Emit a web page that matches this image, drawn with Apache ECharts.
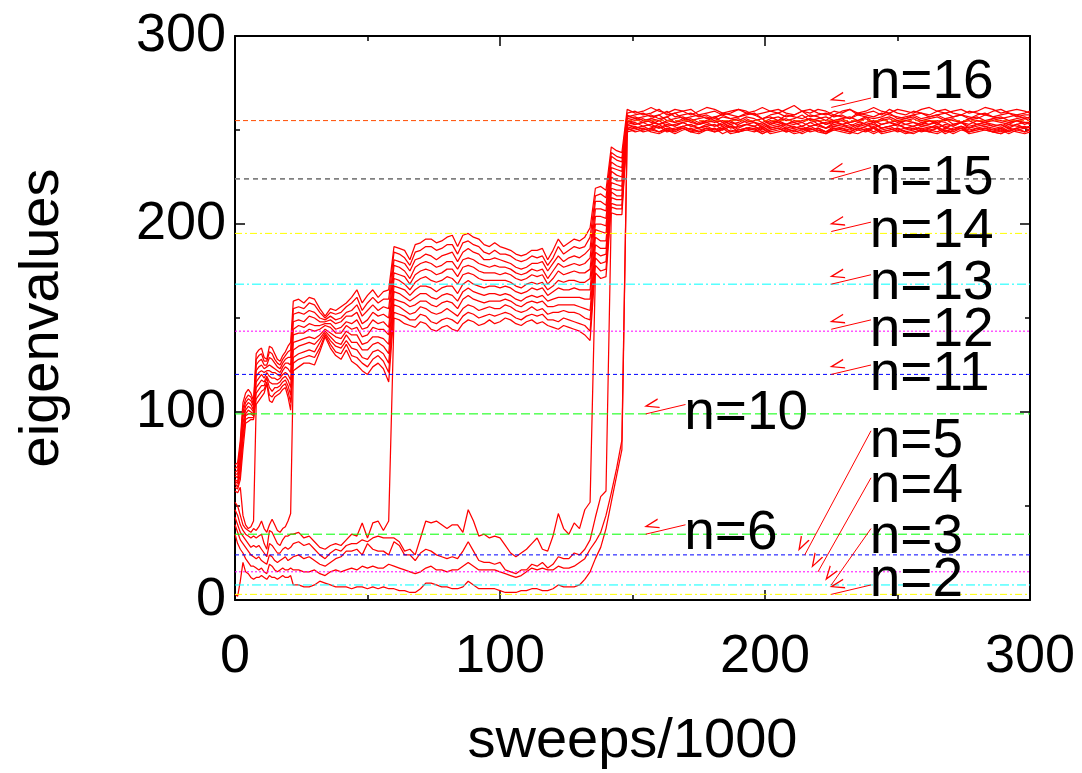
<!DOCTYPE html>
<html><head><meta charset="utf-8">
<script src="https://cdn.jsdelivr.net/npm/echarts/dist/echarts.min.js"></script>
<style>html,body{margin:0;padding:0;background:#fff}#chart{width:1082px;height:773px}</style>
</head><body><div id="chart"></div>
<script>
// sweep positions (x, sweeps/1000)
const sweeps = [0,1,2,3,4,5,6,7,8,9,10,11,12,13,14,15,16,17,18,19,20,21,22,24,26,28,30,32,34,36,38,40,42,44,46,48,50,52,54,56,58,60,62,64,66,68,70,72,74,76,78,80,82,84,86,88,90,92,94,96,98,100,102,104,106,108,110,112,114,116,118,120,122,124,126,128,130,132,134,136,138,140,142,144,146];
const bandSweeps = [148,151,154,157,160,163,166,169,172,175,178,181,184,187,190,193,196,199,202,205,208,211,214,217,220,223,226,229,232,235,238,241,244,247,250,253,256,259,262,265,268,271,274,277,280,283,286,289,292,295,298,300];

// eigenvalues, sweeps 0..146
const e1 = [72,73,85,105,110,112,110,106, 131,133,134,129,128,135,134,131,128,127,130,132,135,137, 159, 160,158,161,160,155,151,155,154,156,158,161,165,158,162,165,161,164,165, 188,187,186,181,189,190,192,192,190,191,193,194,188,194,195,193,192,189,188,190,188,187,186,184,183,184,186,186,187,181,186,192,188,190,192,191,193,198, 219,220,218, 241,239,238];
const e2 = [70,71,82,102,107,109,108,104, 128,130,131,127,127,132,131,128,126,125,128,130,132,133, 155, 156,155,158,157,153,150,153,152,153,156,158,161,154,158,161,158,160,160, 185,184,182,178,185,186,188,188,186,187,189,189,184,190,191,189,188,185,184,186,184,184,183,181,180,181,183,182,183,178,182,188,184,186,188,187,188,193, 215,216,214, 238,236,235];
const e3 = [68,69,80,100,105,107,106,103, 125,127,128,125,125,129,128,126,124,123,126,128,129,129, 152, 153,152,154,153,150,149,151,149,150,153,154,157,151,154,157,154,156,155, 181,180,179,175,181,182,184,183,181,183,184,185,180,185,187,185,184,181,181,182,181,180,179,177,176,177,179,179,180,175,179,183,180,182,183,182,184,187, 212,212,210, 236,234,233];
const e4 = [67,67,77,97,103,105,104,101, 122,124,125,123,124,125,124,123,122,121,124,126,126,125, 148, 149,148,151,150,148,148,149,147,148,151,151,153,147,149,153,151,152,150, 178,177,175,171,177,179,180,179,177,178,180,180,176,181,182,181,179,178,177,178,177,177,176,174,173,174,176,175,176,171,175,179,177,178,179,178,179,182, 208,208,207, 233,231,230];
const e5 = [66,65,75,94,101,103,102,100, 119,121,122,121,122,122,121,121,120,119,122,124,123,121, 144, 146,145,147,146,146,147,147,144,145,148,147,149,144,145,149,147,148,145, 174,173,172,168,173,175,176,175,173,174,176,176,172,177,178,177,175,174,174,174,173,174,173,171,170,171,173,172,173,168,171,175,173,174,175,174,174,176, 204,204,203, 230,229,228];
const e6 = [64,63,72,91,99,101,100,99, 116,118,120,118,121,119,118,118,117,118,120,121,120,117, 141, 142,142,144,143,144,146,145,142,142,146,144,145,140,141,145,144,144,141, 171,170,168,165,169,171,172,170,169,170,172,171,168,173,174,173,171,170,170,170,170,170,169,167,166,168,169,168,169,165,167,170,169,170,170,169,169,171, 200,200,199, 228,226,225];
const e7 = [63,62,70,88,98,99,99,98, 113,115,117,116,119,116,115,115,115,116,118,119,117,113, 137, 138,139,140,139,141,144,142,140,139,143,141,141,136,137,140,140,139,136, 167,166,165,162,165,167,167,166,164,166,167,167,163,168,170,168,167,166,167,167,166,167,166,164,163,164,166,165,166,162,164,166,165,165,166,165,165,165, 197,196,195, 225,223,223];
const e8 = [62,60,67,85,96,97,97,97, 110,112,114,114,118,113,111,113,113,114,116,117,114,109, 133, 135,136,137,136,139,143,140,137,136,141,137,137,133,133,136,137,135,131, 164,163,161,159,161,163,163,161,160,162,163,162,159,164,166,164,163,162,163,163,162,163,162,160,159,161,162,161,162,159,160,161,161,161,161,161,160,160, 193,191,191, 222,221,220];
const e9 = [60,59,64,80,94,95,96,96, 107,109,111,112,116,109,108,110,111,112,114,115,111,105, 129, 131,132,133,132,137,142,138,135,134,138,134,133,129,128,132,133,131,126, 160,159,158,156,157,159,159,157,156,158,159,158,155,160,162,160,159,158,159,159,159,160,159,157,156,158,159,158,159,156,156,157,157,157,157,156,155,154, 189,187,187, 219,218,218];
const e10 = [58,57,60,45,40,38,39,42, 104,106,108,110,115,106,105,108,109,110,112,113,108,101, 126, 128,129,130,129,134,141,136,132,131,136,130,129,126,124,128,130,127,121, 157,156,154,152,153,156,155,153,152,153,155,153,151,155,157,156,154,155,156,155,155,157,156,154,153,154,156,154,155,152,153,153,154,153,153,152,150,149, 185,183,184, 217,215,215];
const e11 = [52,50,45,40,38,37,36,38, 37,39,42,38,36,40,43,40,37,36,38,39,42,46, 122, 124,126,126,125,132,140,134,130,128,133,127,125,122,120,124,126,123,116, 153,152,151,149,149,152,151,148,147,149,150,149,147,151,153,152,150,151,152,151,152,153,152,150,149,151,152,151,152,149,149,148,150,149,148,147,146,143, 182,179,180, 214,213,213];
const e12 = [48,45,40,37,35,34,33,34, 33,34,35,30,27,37,36,33,30,29,32,34,34,35, 35, 36,33,34,31,28,27,29,30,29,32,35,34,41,33,41,42,37,42, 150,149,147,146,145,148,147,144,143,145,146,144,143,147,149,148,146,147,149,147,148,150,149,147,146,148,149,147,148,146,145,144,146,145,144,143,141,138, 178,175,176, 211,210,210];
const e13 = [44,40,36,34,32,30,28,29, 28,29,27,25,23,30,29,27,25,25,27,28,27,28, 30, 31,29,30,27,24,22,25,27,26,29,30,30,32,31,33,34,33,33, 33,31,26,27,24,33,42,41,42,40,38,40,40,36,48,42,34,35,33,34,33,29,25,23,25,27,30,33,27,26,34,46,38,35,41,38,48,52, 174,171,172, 209,208,208];
const e14 = [40,36,32,30,28,26,24,23, 22,23,21,20,19,24,23,21,20,21,22,23,21,22, 23, 24,22,23,21,19,18,20,22,23,26,26,27,24,30,27,26,26,24, 31,29,24,24,21,25,27,26,24,23,22,23,22,26,31,26,21,20,20,19,20,16,15,14,16,16,19,18,20,17,19,23,22,22,25,24,27,32, 44,55,58, 206,205,205];
const e15 = [35,30,27,25,22,20,18,18, 17,16,17,15,14,19,18,16,15,16,17,16,16,17, 16, 16,15,15,16,14,13,15,16,15,16,17,16,18,17,18,17,17,19, 18,17,16,15,14,15,17,18,16,16,15,16,16,18,20,18,16,16,16,16,15,14,13,12,13,15,17,16,17,16,16,18,17,17,18,20,22,27, 31,36,45, 57,70,85];
const e16 = [3,2,10,20,15,14,12,11, 12,12,13,12,11,13,12,12,11,12,13,12,12,13, 8, 8,7,7,8,10,9,8,7,7,7,6,7,7,6,7,6,7,6, 6,5,5,4,4,6,9,9,8,7,7,6,6,7,10,8,6,6,6,6,5,4,4,4,5,5,6,6,5,5,6,8,7,7,7,8,11,15, 22,28,38, 52,66,80];

// eigenvalues, sweeps 148..300 (all in the n=16 band)
const b1 = [261,259,260,262,260,259,261,260,258,260,262,261,259,260,261,259,260,262,260,259,261,263,260,259,261,260,258,260,261,259,260,262,260,259,261,260,259,261,262,260,259,260,261,259,260,262,261,259,260,261,260,259];
const b2 = [259,260,258,259,261,258,259,260,261,258,259,260,258,259,261,260,258,259,260,261,259,258,260,261,259,258,260,259,261,258,259,260,258,261,259,258,260,259,258,260,261,259,258,260,259,258,260,261,259,258,259,260];
const b3 = [257,258,259,257,258,260,257,258,259,257,258,256,259,258,257,259,258,256,258,259,257,258,260,257,258,259,257,258,256,259,258,257,259,258,257,256,258,259,257,258,259,257,258,256,258,259,257,258,259,257,258,258];
const b4 = [258,256,257,258,256,257,259,256,257,258,256,257,258,256,257,258,259,256,257,255,258,257,256,258,257,255,258,257,256,258,257,256,257,259,256,257,258,256,257,258,256,257,258,257,256,258,257,256,257,258,256,257];
const b5 = [256,257,255,256,258,255,256,257,255,256,257,255,257,256,255,257,256,254,256,257,255,256,258,255,256,257,255,256,257,255,256,254,256,257,255,256,257,255,256,257,255,256,254,256,257,255,256,257,255,256,257,256];
const b6 = [255,256,254,256,255,257,254,255,256,254,255,257,254,255,256,254,255,256,253,255,256,254,255,256,255,253,255,256,254,255,257,254,255,256,254,255,256,254,255,253,256,255,254,256,255,254,256,255,254,255,256,255];
const b7 = [254,255,256,254,253,255,254,256,254,253,255,254,255,253,254,256,254,253,255,254,253,255,254,256,253,254,255,253,254,255,253,254,256,254,253,255,254,253,255,254,256,253,254,255,253,254,255,254,253,255,254,254];
const b8 = [255,253,254,255,253,254,252,254,255,253,254,255,252,254,253,255,254,252,254,255,253,254,252,254,255,253,254,255,253,252,254,255,253,254,255,253,252,254,253,255,254,252,254,253,255,254,253,252,254,255,253,254];
const b9 = [253,254,252,253,255,252,253,254,252,253,254,252,253,255,252,253,254,251,253,254,252,253,254,252,253,251,254,253,252,254,253,251,253,254,252,253,254,252,253,254,251,253,254,252,253,254,252,253,251,253,254,253];
const b10 = [252,253,254,252,251,253,252,254,252,251,253,252,254,251,252,253,252,254,251,252,253,251,252,254,252,251,253,252,251,253,252,254,251,252,253,251,252,253,252,251,253,252,254,251,252,253,252,251,253,252,251,252];
const b11 = [253,251,252,253,251,252,250,252,253,251,252,253,250,252,251,253,252,250,252,253,251,252,250,252,253,251,252,253,251,250,252,253,251,252,253,251,250,252,251,253,252,250,252,251,253,252,251,250,252,253,251,252];
const b12 = [251,252,250,251,253,250,251,252,250,251,252,250,251,253,250,251,252,249,251,252,250,251,252,250,251,249,252,251,250,252,251,249,251,252,250,251,252,250,251,252,249,251,252,250,251,252,250,251,249,251,252,251];
const b13 = [250,251,252,250,249,251,250,252,250,249,251,250,252,249,250,251,250,252,249,250,251,249,250,252,250,249,251,250,249,251,250,252,249,250,251,249,250,251,250,249,251,250,252,249,250,251,250,249,251,250,249,250];
const b14 = [251,249,250,251,249,250,248,250,251,249,250,251,248,250,249,251,250,248,250,251,249,250,248,250,251,249,250,251,249,248,250,251,249,250,251,249,248,250,249,251,250,248,250,249,251,250,249,248,250,251,249,250];
const b15 = [250,251,249,250,252,249,250,251,249,250,251,249,250,252,249,250,251,248,250,251,249,250,251,249,250,248,251,250,249,251,250,248,250,251,249,250,251,249,250,251,248,250,251,249,250,251,249,250,248,250,251,250];
const b16 = [249,250,251,249,248,250,249,251,249,248,250,249,251,248,249,250,249,251,248,249,250,248,249,251,249,248,250,249,248,250,249,251,248,249,250,248,249,250,249,248,250,249,251,248,249,250,249,248,250,249,248,249];

// reference levels n^2-1 and annotations
const refN      = [16, 15, 14, 13, 12, 11, 10, 6, 5, 4, 3, 2];
const refLevels = [255, 224, 195, 168, 143, 120, 99, 35, 24, 15, 8, 3];
const refColors = ['#ff4d00','#808080','#ffff00','#00ffff','#ff00ff','#0000ff','#00ff00','#00ff00','#0000ff','#ff00ff','#00ffff','#ffff00'];
const refDash   = [[5,3],[5,4],[7,3,2,3],[9,3,2,3],[2,2],[4,3],[9,4],[9,4],[4,3],[2,2],[9,3,2,3],[7,3,2,3]];
const refWidth  = [1,1.6,1,1,1,1,1,1,1,1,1,1];
const labelText = ['n=16','n=15','n=14','n=13','n=12','n=11','n=10','n=6','n=5','n=4','n=3','n=2'];
const labelX    = [239.5,239.5,239.5,239.5,239.5,239.5,169.5,169.5,239.5,239.5,239.5,239.5];
const labelY    = [275, 224, 196, 168, 143, 120, 99, 35, 84, 60, 33, 10];
const arrowFrom = [[240,267],[240,230],[240,201],[240,173],[240,149],[240,125],[170,104],[170,40],[240,90],[240,65],[240,38],[240,8]];
const arrowTo   = [[225,262],[225,224],[225,196],[225,168],[225,144],[225,120],[155,99],[155,35],[215,24],[220,15],[225,8],[225,3]];

const early = [e1,e2,e3,e4,e5,e6,e7,e8,e9,e10,e11,e12,e13,e14,e15,e16];
const band  = [b1,b2,b3,b4,b5,b6,b7,b8,b9,b10,b11,b12,b13,b14,b15,b16];

const FONT = '"Liberation Sans", Arial, Helvetica, sans-serif';
const series = [];
early.forEach((e, k) => {
  const data = sweeps.map((x, i) => [x, e[i]])
    .concat(bandSweeps.map((x, i) => [x, band[k][i]]))
    .filter(p => p[1] !== undefined);
  series.push({type:'line', data, symbol:'none', showSymbol:false, silent:true, z:2,
    lineStyle:{color:'#ff0000', width:1.25}});
});
refLevels.forEach((y, j) => {
  series.push({type:'line', data:[[0,y],[300,y]], symbol:'none', silent:true, z:3,
    lineStyle:{color:refColors[j], width:refWidth[j], type:refDash[j]}});
});
series.push({type:'scatter', silent:true, z:5, symbolSize:0,
  itemStyle:{color:'#000', opacity:1},
  emphasis:{disabled:true},
  data: labelText.map((t, j) => ({name:t, value:[labelX[j], labelY[j]]})),
  label:{show:true, position:'right', distance:0, formatter:'{b}', fontSize:55, color:'#000', opacity:1, fontFamily:FONT}});
series.push({type:'line', data:[], silent:true, z:4,
  markLine:{silent:true, animation:false,
    symbol:['none','path://M5,0 L10,12 L8.6,12 L5,3.2 L1.4,12 L0,12 Z'], symbolSize:[10,15], symbolOffset:[0,7.5],
    lineStyle:{color:'#ff0000', width:1, type:'solid', opacity:1}, label:{show:false},
    data: arrowFrom.map((f, j) => [{coord:f}, {coord:arrowTo[j]}])}});

const axisCommon = {
  type:'value', min:0, max:300, interval:100,
  axisLine:{show:true, onZero:false, lineStyle:{color:'#000', width:2}},
  axisTick:{show:true, inside:true, length:10, lineStyle:{color:'#000', width:1.5}},
  minorTick:{show:true, splitNumber:2, length:5, lineStyle:{color:'#000', width:1.5}},
  splitLine:{show:false}, minorSplitLine:{show:false}
};
const chart = echarts.init(document.getElementById('chart'), null, {renderer:'canvas'});
chart.setOption({
  animation:false,
  backgroundColor:'#fff',
  grid:{left:235, right:52, top:36, bottom:173, containLabel:false, outerBoundsMode:'none'},
  xAxis:[
    Object.assign({}, axisCommon, {position:'bottom',
      axisLabel:{show:true, fontSize:54, color:'#000', margin:30, fontFamily:FONT},
      name:'sweeps/1000', nameLocation:'middle', nameGap:114,
      nameTextStyle:{fontSize:56, color:'#000', fontFamily:FONT}}),
    Object.assign({}, axisCommon, {position:'top', axisLabel:{show:false}})
  ],
  yAxis:[
    Object.assign({}, axisCommon, {position:'left',
      axisLabel:{show:true, fontSize:54, color:'#000', margin:9, fontFamily:FONT},
      name:'eigenvalues', nameLocation:'middle', nameGap:164,
      nameTextStyle:{fontSize:56, color:'#000', fontFamily:FONT}}),
    Object.assign({}, axisCommon, {position:'right', axisLabel:{show:false}})
  ],
  series
});
</script></body></html>
